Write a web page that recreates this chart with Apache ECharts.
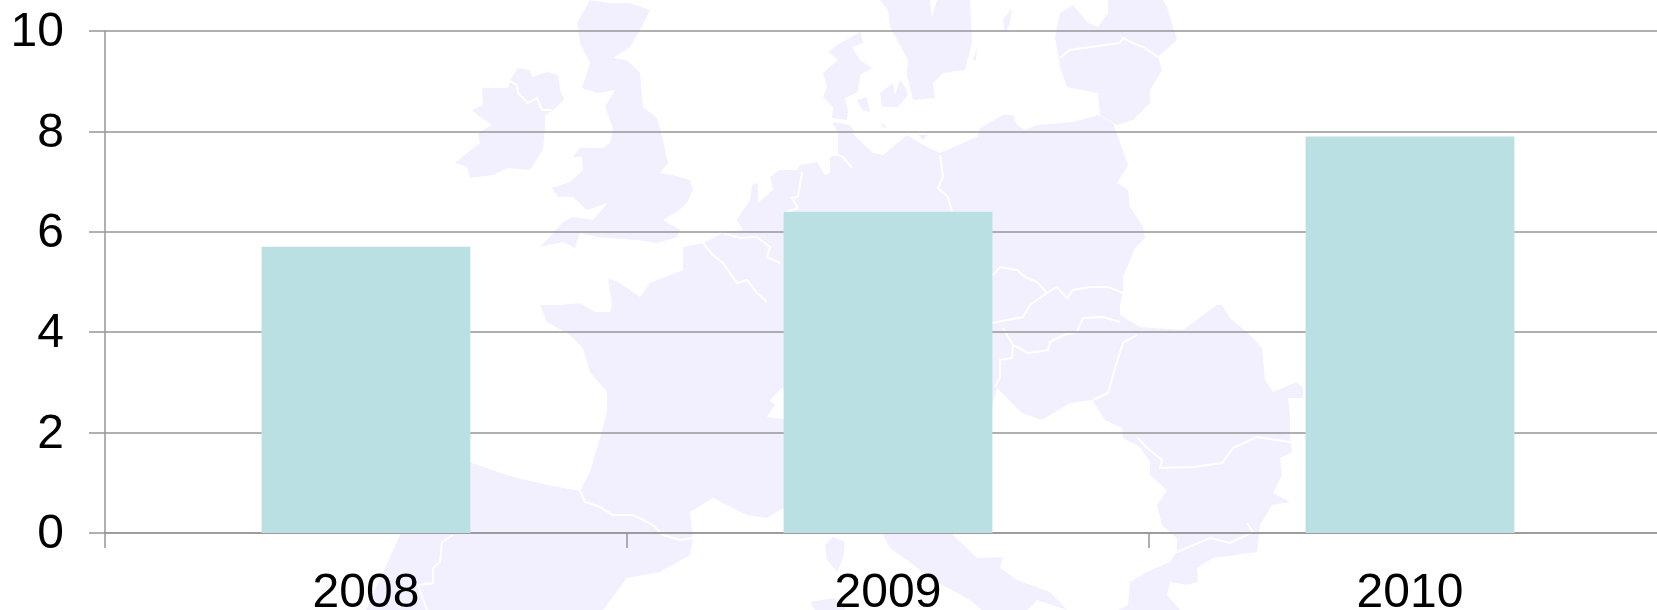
<!DOCTYPE html>
<html>
<head>
    <meta charset="utf-8">
    <script src="https://cdn.jsdelivr.net/npm/echarts@6/dist/echarts.min.js"></script>
    <style type="text/css">
        html, body { width: 100%; height: 100%; margin: 0; background: #fff; overflow: hidden; }
        #chart { width: 1657px; height: 610px; }
    </style>
</head>
<body>
<div id="chart"></div>
<script type="text/javascript">
    var years = ['2008', '2009', '2010'];
    var values = [5.7, 6.4, 7.9];
    var yTicks = { min: 0, max: 10, interval: 2 };

    // faint Europe map behind the chart, traced by eye (decoration only, page pixels)
    var landShapes = [
        // Ireland
        [[518,68],[530,70],[532,77],[547,72],[558,75],[560,90],[564,100],[553,110],[545,115],[545,127],[543,150],[530,170],[508,168],[493,175],[470,178],[467,167],[455,163],[467,153],[480,143],[478,133],[492,125],[480,117],[472,110],[483,105],[482,88],[493,88],[508,88],[510,80]],
        // Great Britain
        [[590,0],[608,3],[630,3],[650,10],[640,30],[630,47],[613,58],[627,60],[640,73],[643,107],[657,118],[663,140],[668,163],[660,173],[673,175],[690,180],[693,190],[687,203],[677,212],[663,220],[680,230],[677,237],[657,243],[637,240],[597,237],[580,233],[575,248],[563,242],[540,247],[553,233],[563,222],[573,217],[593,220],[608,203],[587,210],[573,197],[558,197],[552,188],[570,182],[583,170],[582,157],[573,157],[580,148],[603,148],[610,143],[613,128],[605,107],[615,90],[597,93],[582,88],[590,63],[580,43],[577,23]],
        // mainland, clockwise from north-east Poland round to the Baltic coast
        [[1113,123],[1128,165],[1117,183],[1128,190],[1130,207],[1143,227],[1145,238],[1135,248],[1123,277],[1123,293],[1120,305],[1120,315],[1140,327],[1183,330],[1210,310],[1217,305],[1222,305],[1230,318],[1250,335],[1262,348],[1265,380],[1273,392],[1297,382],[1303,388],[1303,398],[1288,398],[1290,415],[1290,437],[1292,452],[1280,458],[1282,475],[1273,493],[1290,502],[1272,505],[1260,525],[1257,552],[1213,558],[1197,568],[1198,582],[1187,585],[1170,582],[1167,595],[1180,610],[1118,610],[1128,605],[1130,582],[1147,572],[1170,562],[1177,552],[1177,538],[1162,525],[1157,505],[1167,490],[1150,475],[1150,462],[1140,447],[1123,438],[1122,428],[1105,420],[1092,400],[1070,403],[1042,420],[1022,413],[997,388],[975,470],[953,535],[977,558],[1003,557],[1000,568],[1017,580],[1050,592],[1067,610],[1037,600],[1027,610],[982,610],[970,600],[933,580],[910,562],[890,548],[883,535],[870,510],[800,500],[783,508],[767,518],[747,515],[713,498],[690,512],[693,538],[690,555],[660,572],[627,578],[603,610],[366,610],[400,535],[420,470],[469,462],[513,477],[547,485],[580,491],[590,472],[600,438],[607,412],[607,392],[590,372],[583,348],[570,335],[547,322],[540,305],[560,305],[580,303],[595,312],[610,312],[612,305],[608,278],[620,283],[640,297],[650,283],[683,270],[683,247],[703,243],[723,233],[743,230],[737,220],[750,200],[752,185],[758,183],[758,203],[773,190],[770,177],[780,170],[797,170],[800,165],[817,162],[825,175],[830,173],[830,157],[838,155],[838,133],[852,132],[857,138],[873,153],[883,155],[907,135],[927,147],[940,153],[977,137],[980,128],[1003,115],[1013,115],[1017,125],[1025,130],[1037,125],[1073,122],[1098,115]],
        // Baltic states
        [[1100,115],[1098,93],[1067,87],[1060,67],[1055,37],[1060,13],[1073,5],[1088,23],[1098,27],[1108,13],[1108,0],[1163,0],[1167,7],[1177,40],[1158,57],[1162,70],[1150,90],[1150,103],[1133,120],[1117,125]],
        // Sweden
        [[880,0],[888,10],[890,27],[908,60],[907,75],[913,100],[935,98],[933,83],[943,73],[965,70],[972,43],[970,0]],
        // Jutland
        [[823,73],[838,60],[828,52],[837,45],[858,33],[860,30],[863,43],[852,47],[860,60],[872,68],[860,75],[858,92],[845,98],[848,110],[847,120],[832,118],[833,107],[823,97],[827,87]],
        [[832,122],[850,125],[855,132],[838,133]],
        // Danish islands, Gotland, Oland, Rugen
        [[857,100],[867,97],[870,112],[862,110]],
        [[880,93],[893,83],[895,95],[900,80],[905,87],[908,95],[898,107],[882,107]],
        [[880,122],[887,127],[883,128]],
        [[1003,20],[1012,8],[1010,23],[1005,33]],
        [[973,60],[977,47],[976,60]],
        [[918,135],[927,135],[923,140]],
        // Corsica, Sardinia
        [[825,545],[833,537],[845,542],[843,558],[837,572],[827,560]],
        [[810,602],[833,598],[845,605],[845,610],[815,610]]
    ];

    // white gaps inside the land
    var gapShapes = [
        [[767,417],[775,405],[770,400],[783,387],[790,420]],
        [[930,0],[937,0],[932,17]]
    ];

    var borderLines = [
        [[508,80],[517,85],[518,93],[528,103],[537,98],[542,110],[552,110]],
        [[580,491],[585,502],[600,507],[613,515],[633,515],[653,525],[663,535],[680,540],[693,538]],
        [[453,535],[442,542],[440,562],[433,568],[433,583],[418,585],[427,610]],
        [[703,243],[713,255],[723,263],[737,283],[747,280],[757,293],[767,302]],
        [[723,233],[740,238],[757,237],[770,247],[767,257],[780,263]],
        [[802,172],[798,197],[792,198],[798,208],[783,213]],
        [[838,155],[843,157],[852,168]],
        [[940,155],[943,177],[938,188],[948,197],[952,212]],
        [[993,275],[1000,267],[1017,270],[1025,277],[1037,282],[1047,293],[1057,287],[1067,298],[1073,290],[1090,287],[1108,287],[1123,293]],
        [[1047,293],[1030,305],[1023,317],[1007,320],[992,323]],
        [[1003,328],[1013,345],[1028,353],[1048,350],[1050,342],[1063,335],[1077,332],[1083,318],[1103,317],[1120,322]],
        [[1013,345],[1012,358],[1000,360],[1000,377],[995,387]],
        [[1137,335],[1123,343],[1115,368],[1108,393],[1093,400]],
        [[1138,438],[1147,448],[1162,460],[1160,468],[1193,467],[1222,463],[1233,448],[1257,437],[1290,442]],
        [[1247,523],[1253,532],[1230,543],[1210,538],[1177,552]],
        [[1060,58],[1070,50],[1090,47],[1120,43],[1123,38],[1133,43],[1143,47],[1158,57]]
    ];

    var graphicItems = [];
    landShapes.forEach(function (points) {
        graphicItems.push({ type: 'polygon', z: -10, silent: true, shape: { points: points }, style: { fill: '#f2f0fe' } });
    });
    gapShapes.forEach(function (points) {
        graphicItems.push({ type: 'polygon', z: -9, silent: true, shape: { points: points }, style: { fill: '#ffffff' } });
    });
    borderLines.forEach(function (points) {
        graphicItems.push({ type: 'polyline', z: -9, silent: true, shape: { points: points }, style: { fill: null, stroke: '#ffffff', lineWidth: 2 } });
    });

    var lineColor = '#969696';
    var labelFont = { color: '#000', fontFamily: 'Liberation Sans', fontSize: 48 };

    var myChart = echarts.init(document.getElementById('chart'), null, { renderer: 'canvas' });
    myChart.setOption({
        animation: false,
        backgroundColor: '#fff',
        graphic: { elements: graphicItems },
        grid: { left: 105, top: 31, width: 1566, height: 502, containLabel: false, outerBoundsMode: 'none' },
        xAxis: {
            type: 'category',
            data: years,
            boundaryGap: true,
            axisLine: { lineStyle: { color: lineColor, width: 1.5 } },
            axisTick: { show: true, alignWithLabel: false, length: 15, lineStyle: { color: lineColor, width: 1.5 } },
            axisLabel: Object.assign({ margin: 37 }, labelFont)
        },
        yAxis: {
            type: 'value',
            min: yTicks.min,
            max: yTicks.max,
            interval: yTicks.interval,
            axisLine: { show: true, lineStyle: { color: lineColor, width: 1.5 } },
            axisTick: { show: true, length: 16, lineStyle: { color: lineColor, width: 1.5 } },
            splitLine: { show: true, lineStyle: { color: lineColor, width: 1.5 } },
            // line box pushed just under the tick so the digits sit where the reference has them
            axisLabel: Object.assign({ margin: 41, verticalAlign: 'top', lineHeight: 4 }, labelFont)
        },
        series: [{
            type: 'bar',
            data: values,
            barWidth: '40%',
            z: 5,
            itemStyle: { color: '#bbe0e3' }
        }]
    });
</script>
</body>
</html>
